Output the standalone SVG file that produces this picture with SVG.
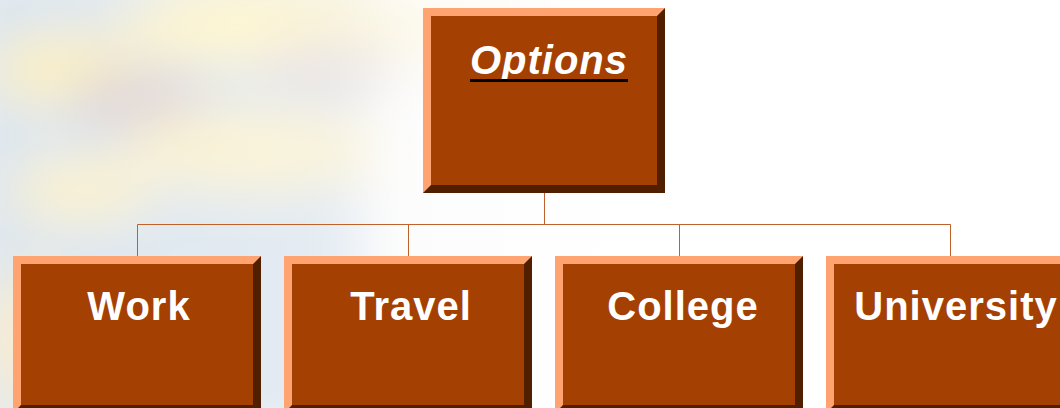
<svg xmlns="http://www.w3.org/2000/svg" width="1060" height="408" viewBox="0 0 1060 408">
<style>
.light{fill:#FFA470}
.dark{fill:#4F1F00}
.face{fill:#A54003}
.lbl{font-family:"Liberation Sans",Arial,sans-serif;font-weight:bold;font-size:40px;fill:#FFFFFF;text-anchor:middle;letter-spacing:1px}
.conn{stroke:#C0602A;stroke-width:1;fill:none}
</style>
<defs>
<filter id="blur" x="-50%" y="-50%" width="200%" height="200%"><feGaussianBlur stdDeviation="26"/></filter>
<linearGradient id="fade" x1="0" y1="0" x2="1" y2="0">
<stop offset="0" stop-color="#fff" stop-opacity="0"/>
<stop offset="0.35" stop-color="#fff" stop-opacity="0.25"/>
<stop offset="0.6" stop-color="#fff" stop-opacity="1"/>
</linearGradient>
</defs>
<g id="background">
<rect width="1060" height="408" fill="#fbfbfb"/>
<g filter="url(#blur)">
<rect x="-40" y="-40" width="400" height="480" fill="#dde6ef"/>
<ellipse cx="70" cy="70" rx="80" ry="35" fill="#fdf0c0"/>
<ellipse cx="270" cy="25" rx="150" ry="40" fill="#fff5c8"/>
<ellipse cx="140" cy="100" rx="70" ry="30" fill="#dcd2d6"/>
<ellipse cx="250" cy="150" rx="130" ry="40" fill="#fbf2cf"/>
<ellipse cx="80" cy="190" rx="70" ry="30" fill="#fdf2ca"/>
<ellipse cx="330" cy="65" rx="70" ry="28" fill="#e6dede"/>
<ellipse cx="30" cy="340" rx="40" ry="70" fill="#fbedcc"/>
<ellipse cx="460" cy="30" rx="120" ry="30" fill="#fbf5dc"/>
</g>
<rect width="1060" height="408" fill="url(#fade)"/>
</g>
<g id="connectors">
<path class="conn" d="M544.5 193V224.5M137.5 224.5H950.5M137.5 224.5V256M408.5 224.5V256M679.5 224.5V256M950.5 224.5V256"/>
</g>
<g id="node-options">
<rect class="light" x="423" y="8" width="242" height="185"/>
<polygon class="dark" points="665,8 665,193 423,193 431,185 657,185 657,16"/>
<rect class="face" x="431" y="16" width="226" height="169"/>
<text class="lbl" x="549" y="74" font-style="italic">Options</text>
<line x1="470" y1="80.5" x2="628" y2="80.5" stroke="#000" stroke-width="3"/>
</g>
<g id="node-work">
<rect class="light" x="13" y="256" width="248" height="157"/>
<polygon class="dark" points="261,256 261,413 13,413 21,405 253,405 253,264"/>
<rect class="face" x="21" y="264" width="232" height="141"/>
<text class="lbl" x="139" y="320">Work</text>
</g>
<g id="node-travel">
<rect class="light" x="284" y="256" width="248" height="157"/>
<polygon class="dark" points="532,256 532,413 284,413 292,405 524,405 524,264"/>
<rect class="face" x="292" y="264" width="232" height="141"/>
<text class="lbl" x="411" y="320">Travel</text>
</g>
<g id="node-college">
<rect class="light" x="555" y="256" width="248" height="157"/>
<polygon class="dark" points="803,256 803,413 555,413 563,405 795,405 795,264"/>
<rect class="face" x="563" y="264" width="232" height="141"/>
<text class="lbl" x="683" y="320">College</text>
</g>
<g id="node-university">
<rect class="light" x="826" y="256" width="248" height="157"/>
<polygon class="dark" points="1074,256 1074,413 826,413 834,405 1066,405 1066,264"/>
<rect class="face" x="834" y="264" width="232" height="141"/>
<text class="lbl" x="956" y="320">University</text>
</g>
</svg>
